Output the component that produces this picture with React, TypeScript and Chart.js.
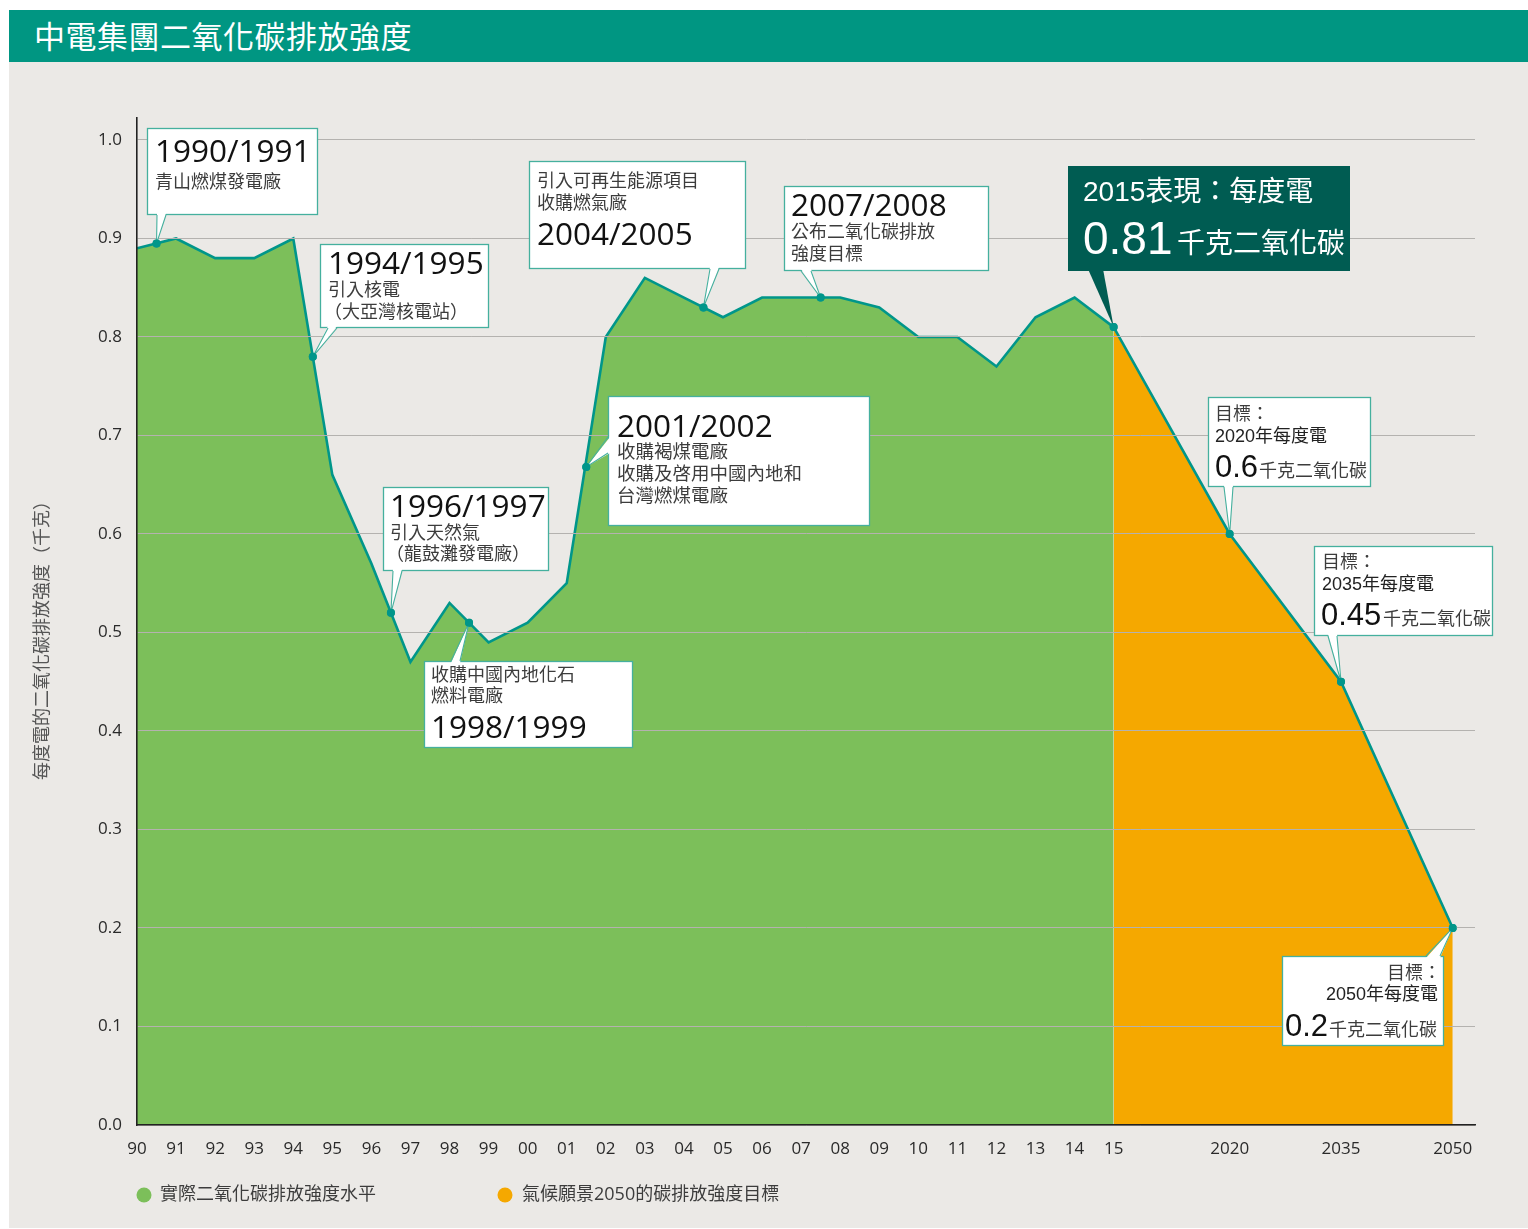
import React, { useEffect, useRef } from 'react';
import { Chart, registerables } from 'chart.js';

Chart.register(...registerables);

// ---------------- data ----------------
const chartTitle = '中電集團二氧化碳排放強度';
const yAxisTitle = '每度電的二氧化碳排放強度（千克）';
const legendLabels = ['實際二氧化碳排放強度水平', '氣候願景2050的碳排放強度目標'];

const tickYears = [
  1990, 1991, 1992, 1993, 1994, 1995, 1996, 1997, 1998, 1999, 2000, 2001, 2002,
  2003, 2004, 2005, 2006, 2007, 2008, 2009, 2010, 2011, 2012, 2013, 2014, 2015,
  2020, 2035, 2050,
];
const tickLabels = [
  '90', '91', '92', '93', '94', '95', '96', '97', '98', '99', '00', '01', '02',
  '03', '04', '05', '06', '07', '08', '09', '10', '11', '12', '13', '14', '15',
  '2020', '2035', '2050',
];
const yTicks = [0, 0.1, 0.2, 0.3, 0.4, 0.5, 0.6, 0.7, 0.8, 0.9, 1.0];

const actualYears = [
  1990, 1991, 1992, 1993, 1994, 1995, 1996, 1997, 1998, 1999, 2000, 2001, 2002,
  2003, 2004, 2005, 2006, 2007, 2008, 2009, 2010, 2011, 2012, 2013, 2014, 2015,
];
const actualValues = [
  0.89, 0.90, 0.88, 0.88, 0.90, 0.66, 0.57, 0.47, 0.53, 0.49, 0.51, 0.55, 0.80,
  0.86, 0.84, 0.82, 0.84, 0.84, 0.84, 0.83, 0.80, 0.80, 0.77, 0.82, 0.84, 0.81,
];

const targetYears = [2015, 2020, 2035, 2050];
const targetValues = [0.81, 0.60, 0.45, 0.20];

const milestoneYears = [1990.5, 1994.5, 1996.5, 1998.5, 2001.5, 2004.5, 2007.5, 2015, 2020, 2035, 2050];
const milestoneValues = [0.895, 0.78, 0.52, 0.51, 0.668, 0.83, 0.84, 0.81, 0.60, 0.45, 0.20];

// ---------------- layout / style ----------------
// compressed axis: future target years sit closer together than the yearly history
const SLOT_ANCHORS: [number, number][] = [[1990, 0], [2015, 25], [2020, 27.97], [2035, 30.82], [2050, 33.68]];
function slot(year: number): number {
  for (let i = 0; i < SLOT_ANCHORS.length - 1; i++) {
    const [y0, s0] = SLOT_ANCHORS[i];
    const [y1, s1] = SLOT_ANCHORS[i + 1];
    if (year <= y1) return s0 + ((year - y0) / (y1 - y0)) * (s1 - s0);
  }
  return SLOT_ANCHORS[SLOT_ANCHORS.length - 1][1];
}

const OX = 9;
const OY = 62;
const W = 1519;
const H = 1166;

const TEAL = '#00968a';
const GREEN = '#7cbf5a';
const ORANGE = '#f5a800';
const DARK = '#005c52';
const BOXLINE = '#45b09e';
const OS = "'Open Sans', 'Noto Sans CJK TC', sans-serif";
const AR = "'Liberation Sans', 'Noto Sans CJK TC', sans-serif";
const TXT = '#3c3c3c';
const YR = 31.5;

type T = { t: string; x: number; y: number; s: number; f?: string; c?: string; a?: CanvasTextAlign };
type Callout = {
  m: number;
  box: [number, number, number, number];
  base: [[number, number], [number, number]];
  side: 'top' | 'bottom' | 'left';
  fill: string;
  stroke?: string;
  texts: T[];
};

const callouts: Callout[] = [
  {
    m: 0, box: [147, 128, 318, 215], base: [[157, 215], [166, 215]], side: 'bottom', fill: '#fff', stroke: BOXLINE,
    texts: [
      { t: '1990/1991', x: 155, y: 162, s: YR, c: '#111' },
      { t: '青山燃煤發電廠', x: 155, y: 188, s: 18 },
    ],
  },
  {
    m: 1, box: [320, 244, 489, 328], base: [[328, 328], [337, 328]], side: 'bottom', fill: '#fff', stroke: BOXLINE,
    texts: [
      { t: '1994/1995', x: 328, y: 274, s: YR, c: '#111' },
      { t: '引入核電', x: 328, y: 296, s: 18 },
      { t: '（大亞灣核電站）', x: 324, y: 318, s: 18 },
    ],
  },
  {
    m: 5, box: [529, 161, 746, 269], base: [[710, 269], [719, 269]], side: 'bottom', fill: '#fff', stroke: BOXLINE,
    texts: [
      { t: '引入可再生能源項目', x: 537, y: 187, s: 18 },
      { t: '收購燃氣廠', x: 537, y: 209, s: 18 },
      { t: '2004/2005', x: 537, y: 245, s: YR, c: '#111' },
    ],
  },
  {
    m: 6, box: [784, 186, 989, 271], base: [[801, 271], [811, 271]], side: 'bottom', fill: '#fff', stroke: BOXLINE,
    texts: [
      { t: '2007/2008', x: 791, y: 216, s: YR, c: '#111' },
      { t: '公布二氧化碳排放', x: 791, y: 238, s: 18 },
      { t: '強度目標', x: 791, y: 260, s: 18 },
    ],
  },
  {
    m: 7, box: [1068, 166, 1350, 271], base: [[1088, 271], [1103, 271]], side: 'bottom', fill: DARK,
    texts: [
      { t: '2015表現：每度電', x: 1083, y: 201, s: 28, f: AR, c: '#fff' },
      { t: '0.81', x: 1083, y: 254, s: 46, f: AR, c: '#fff' },
      { t: '千克二氧化碳', x: 1177, y: 253, s: 28, f: AR, c: '#fff' },
    ],
  },
  {
    m: 2, box: [383, 487, 549, 571], base: [[393, 571], [402, 571]], side: 'bottom', fill: '#fff', stroke: BOXLINE,
    texts: [
      { t: '1996/1997', x: 390, y: 517, s: YR, c: '#111' },
      { t: '引入天然氣', x: 390, y: 539, s: 18 },
      { t: '（龍鼓灘發電廠）', x: 386, y: 560, s: 18 },
    ],
  },
  {
    m: 3, box: [424, 661, 633, 748], base: [[451, 661], [460, 661]], side: 'top', fill: '#fff', stroke: BOXLINE,
    texts: [
      { t: '收購中國內地化石', x: 431, y: 681, s: 18 },
      { t: '燃料電廠', x: 431, y: 702, s: 18 },
      { t: '1998/1999', x: 431, y: 738, s: YR, c: '#111' },
    ],
  },
  {
    m: 4, box: [608, 396, 870, 526], base: [[608, 437], [608, 453]], side: 'left', fill: '#fff', stroke: BOXLINE,
    texts: [
      { t: '2001/2002', x: 617, y: 437, s: YR, c: '#111' },
      { t: '收購褐煤電廠', x: 617, y: 458, s: 18.5 },
      { t: '收購及啓用中國內地和', x: 617, y: 480, s: 18.5 },
      { t: '台灣燃煤電廠', x: 617, y: 502, s: 18.5 },
    ],
  },
  {
    m: 8, box: [1208, 397, 1371, 487], base: [[1224, 487], [1233, 487]], side: 'bottom', fill: '#fff', stroke: BOXLINE,
    texts: [
      { t: '目標：', x: 1215, y: 420, s: 18, f: AR },
      { t: '2020年每度電', x: 1215, y: 442, s: 18, f: AR, c: '#222' },
      { t: '0.6', x: 1215, y: 477, s: 31, f: AR, c: '#111' },
      { t: '千克二氧化碳', x: 1259, y: 477, s: 18, f: AR },
    ],
  },
  {
    m: 9, box: [1314, 546, 1493, 636], base: [[1328, 636], [1337, 636]], side: 'bottom', fill: '#fff', stroke: BOXLINE,
    texts: [
      { t: '目標：', x: 1322, y: 568, s: 18, f: AR },
      { t: '2035年每度電', x: 1322, y: 590, s: 18, f: AR, c: '#222' },
      { t: '0.45', x: 1321, y: 625, s: 31, f: AR, c: '#111' },
      { t: '千克二氧化碳', x: 1383, y: 625, s: 18, f: AR },
    ],
  },
  {
    m: 10, box: [1282, 956, 1444, 1046], base: [[1426, 956], [1440, 956]], side: 'top', fill: '#fff', stroke: BOXLINE,
    texts: [
      { t: '目標：', x: 1441, y: 979, s: 18, f: AR, a: 'right' },
      { t: '2050年每度電', x: 1438, y: 1000, s: 18, f: AR, c: '#222', a: 'right' },
      { t: '0.2', x: 1285, y: 1036, s: 31, f: AR, c: '#111' },
      { t: '千克二氧化碳', x: 1329, y: 1036, s: 18, f: AR },
    ],
  },
];

function drawCallout(ctx: CanvasRenderingContext2D, c: Callout, tip: { x: number; y: number }) {
  const x1 = c.box[0] - OX, y1 = c.box[1] - OY, x2 = c.box[2] - OX, y2 = c.box[3] - OY;
  const b = c.base.map(([x, y]) => [x - OX, y - OY]);
  const inset = c.side === 'bottom' ? [0, -2] : c.side === 'top' ? [0, 2] : [2, 0];
  ctx.save();
  ctx.fillStyle = c.fill;
  ctx.fillRect(x1, y1, x2 - x1, y2 - y1);
  if (c.stroke) {
    ctx.strokeStyle = c.stroke;
    ctx.lineWidth = 1.3;
    ctx.strokeRect(x1 + 0.5, y1 + 0.5, x2 - x1 - 1, y2 - y1 - 1);
  }
  ctx.beginPath();
  ctx.moveTo(b[0][0] + inset[0], b[0][1] + inset[1]);
  ctx.lineTo(tip.x, tip.y);
  ctx.lineTo(b[1][0] + inset[0], b[1][1] + inset[1]);
  ctx.closePath();
  ctx.fillStyle = c.fill;
  ctx.fill();
  if (c.stroke) {
    ctx.beginPath();
    ctx.moveTo(b[0][0], b[0][1]);
    ctx.lineTo(tip.x, tip.y);
    ctx.lineTo(b[1][0], b[1][1]);
    ctx.strokeStyle = c.stroke;
    ctx.lineWidth = 1.1;
    ctx.stroke();
  }
  for (const t of c.texts) {
    ctx.font = `${t.s}px ${t.f || OS}`;
    ctx.fillStyle = t.c || TXT;
    ctx.textAlign = t.a || 'left';
    ctx.textBaseline = 'alphabetic';
    ctx.fillText(t.t, t.x - OX, t.y - OY);
  }
  ctx.restore();
}

const overlayPlugin = {
  id: 'overlay',
  afterDraw(chart: any) {
    const ctx: CanvasRenderingContext2D = chart.ctx;
    const xs = chart.scales.x;
    const ys = chart.scales.y;
    for (const c of callouts) {
      const tip = {
        x: xs.getPixelForValue(slot(milestoneYears[c.m])),
        y: ys.getPixelForValue(milestoneValues[c.m]),
      };
      drawCallout(ctx, c, tip);
    }
    // markers on top of the callout pointers
    const meta = chart.getDatasetMeta(2);
    if (meta && meta.controller) meta.controller.draw();

    // y-axis title
    ctx.save();
    ctx.translate(41 - OX, 636 - OY);
    ctx.rotate(-Math.PI / 2);
    ctx.font = `18px 'Noto Sans CJK TC', sans-serif`;
    ctx.fillStyle = '#555';
    ctx.textAlign = 'center';
    ctx.textBaseline = 'middle';
    ctx.fillText(yAxisTitle, 0, 0);
    ctx.restore();

    // legend
    const items = [
      { color: GREEN, cx: 144, tx: 160 },
      { color: ORANGE, cx: 505, tx: 522 },
    ];
    ctx.save();
    items.forEach((it, i) => {
      ctx.beginPath();
      ctx.arc(it.cx - OX, 1195 - OY, 7.5, 0, Math.PI * 2);
      ctx.fillStyle = it.color;
      ctx.fill();
      ctx.font = `18px ${OS}`;
      ctx.fillStyle = TXT;
      ctx.textAlign = 'left';
      ctx.textBaseline = 'middle';
      ctx.fillText(legendLabels[i], it.tx - OX, 1195 - OY);
    });
    ctx.restore();
  },
};

export default function App() {
  const ref = useRef<HTMLCanvasElement>(null);
  useEffect(() => {
    if (!ref.current) return;
    const chart = new Chart(ref.current, {
      type: 'line',
      data: {
        datasets: [
          {
            label: legendLabels[0],
            data: actualYears.map((y, i) => ({ x: slot(y), y: actualValues[i] })),
            borderColor: TEAL,
            borderWidth: 2.6,
            backgroundColor: GREEN,
            fill: 'origin',
            pointRadius: 0,
            tension: 0,
            order: 1,
          },
          {
            label: legendLabels[1],
            data: targetYears.map((y, i) => ({ x: slot(y), y: targetValues[i] })),
            borderColor: TEAL,
            borderWidth: 2.6,
            backgroundColor: ORANGE,
            fill: 'origin',
            pointRadius: 0,
            tension: 0,
            order: 2,
          },
          {
            label: 'milestones',
            data: milestoneYears.map((y, i) => ({ x: slot(y), y: milestoneValues[i] })),
            showLine: false,
            pointRadius: 4,
            pointBackgroundColor: TEAL,
            pointBorderColor: TEAL,
            pointBorderWidth: 0,
            order: 0,
          },
        ],
      } as any,
      options: {
        animation: false,
        responsive: false,
        devicePixelRatio: 1,
        layout: { padding: { left: 0, top: 56, right: 53, bottom: 43 } },
        plugins: { legend: { display: false }, tooltip: { enabled: false } },
        scales: {
          x: {
            type: 'linear',
            min: 0,
            max: 34.25,
            afterBuildTicks: (scale: any) => {
              scale.ticks = tickYears.map((y) => ({ value: slot(y) }));
            },
            afterFit: (scale: any) => {
              scale.height = 60;
            },
            grid: { display: false, drawTicks: false },
            border: { display: true, color: '#222', width: 1.6, z: 2 },
            ticks: {
              autoSkip: false,
              maxRotation: 0,
              padding: 14,
              color: '#2a2a2a',
              font: { family: OS, size: 17 },
              callback: (_v: any, i: number) => tickLabels[i],
            },
          },
          y: {
            type: 'linear',
            min: 0,
            max: 1.0223,
            afterBuildTicks: (scale: any) => {
              scale.ticks = yTicks.map((v) => ({ value: v }));
            },
            afterFit: (scale: any) => {
              scale.width = 128;
            },
            grid: { color: '#b4b2af', lineWidth: 1, drawTicks: false, z: 1 },
            border: { display: true, color: '#222', width: 1.6, z: 2 },
            ticks: {
              padding: 15,
              color: '#2a2a2a',
              font: { family: OS, size: 17 },
              callback: (v: any) => Number(v).toFixed(1),
            },
          },
        },
      } as any,
      plugins: [overlayPlugin],
    });
    if ((document as any).fonts && (document as any).fonts.ready) {
      (document as any).fonts.ready.then(() => {
        try { chart.update(); } catch (e) { /* destroyed */ }
      });
    }
    return () => chart.destroy();
  }, []);

  return (
    <div style={{ position: 'fixed', left: 0, top: 0, width: 1528, height: 1229, background: '#fff', overflow: 'hidden' }}>
      <div
        style={{
          position: 'absolute', left: OX, top: 10, width: W, height: 52, background: '#009682',
          color: '#fff', fontFamily: "'Noto Sans CJK TC', sans-serif", fontSize: 31, lineHeight: '50px',
          paddingLeft: 25, boxSizing: 'border-box', letterSpacing: 0.5,
        }}
      >
        {chartTitle}
      </div>
      <div style={{ position: 'absolute', left: OX, top: OY, width: W, height: H, background: '#ebe9e6' }}>
        <canvas ref={ref} width={W} height={H} style={{ display: 'block', width: W, height: H }} />
      </div>
    </div>
  );
}
